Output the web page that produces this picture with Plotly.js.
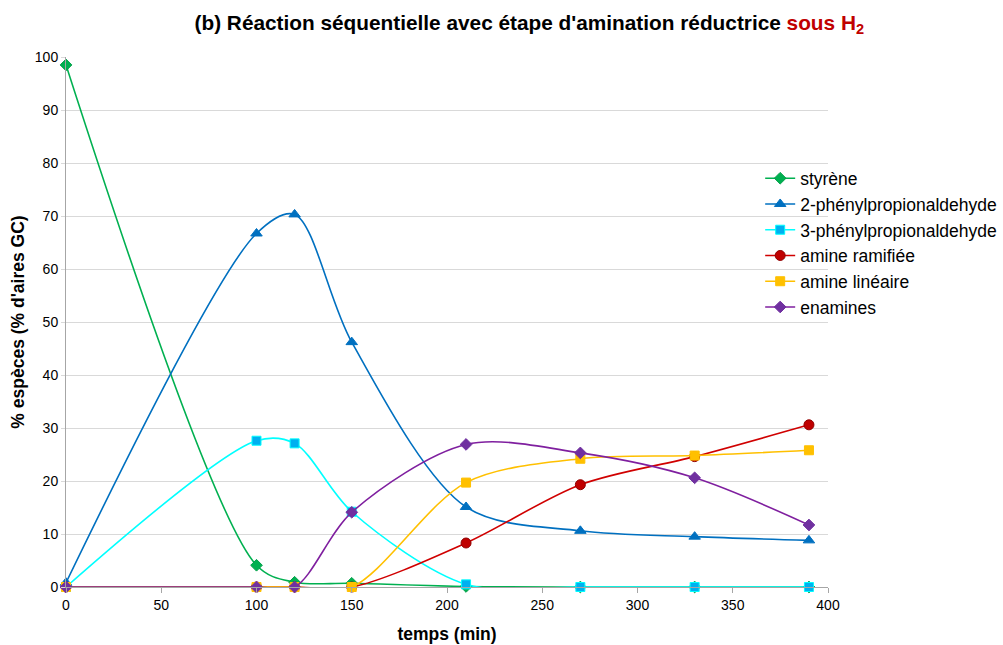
<!DOCTYPE html>
<html>
<head>
<meta charset="utf-8">
<script src="https://cdn.plot.ly/plotly-3.0.1.min.js"></script>
<style>html,body{margin:0;padding:0;background:#fff;}#chart{width:1003px;height:645px;}</style>
</head>
<body>
<div id="chart"></div>
<script>
const temps = [0, 100, 120, 150, 210, 270, 330, 390];
const styrene = [98.5, 4.1, 0.9, 0.7, 0.1, 0, 0, 0];
const phenyl2 = [0.8, 66.7, 70.3, 46.2, 15.1, 10.6, 9.5, 8.8];
const phenyl3 = [0, 27.6, 27.1, 14.2, 0.5, 0, 0, 0];
const amineRamifiee = [0, 0, 0, 0, 8.3, 19.3, 24.6, 30.6];
const amineLineaire = [0, 0, 0, 0, 19.7, 24.2, 24.8, 25.8];
const enamines = [0, 0, 0, 14.1, 26.9, 25.3, 20.6, 11.7];
const xTicks = [0, 50, 100, 150, 200, 250, 300, 350, 400];
const yTicks = [0, 10, 20, 30, 40, 50, 60, 70, 80, 90, 100];

function tr(name, y, lineColor, symbol, fill, border, size) {
  return {
    x: temps, y: y, name: name, type: 'scatter', mode: 'lines+markers',
    line: {color: lineColor, width: 1.6, shape: 'spline', smoothing: 0.9},
    marker: {symbol: symbol, color: fill, size: size, line: {color: border, width: 1}},
    cliponaxis: false
  };
}
const data = [
  tr('styrène', styrene, '#00B050', 'diamond', '#00B050', '#00A048', 9),
  tr('2-phénylpropionaldehyde', phenyl2, '#0070C0', 'triangle-up', '#0070C0', '#0070C0', 10),
  tr('3-phénylpropionaldehyde', phenyl3, '#00FFFF', 'square', '#00B0F0', '#00FFFF', 9),
  tr('amine ramifiée', amineRamifiee, '#D00000', 'circle', '#C00000', '#900000', 10),
  tr('amine linéaire', amineLineaire, '#FFC000', 'square', '#FFC000', '#FFC000', 9),
  tr('enamines', enamines, '#7F1F9F', 'diamond', '#7030A0', '#7030A0', 9)
];
const layout = {
  width: 1003, height: 645,
  margin: {l: 66, r: 175, t: 57, b: 58, autoexpand: false},
  paper_bgcolor: '#fff', plot_bgcolor: '#fff',
  font: {family: 'Liberation Sans, Arial, sans-serif', size: 14, color: '#000'},
  title: {
    text: "<b>(b) Réaction séquentielle avec étape d'amination réductrice <span style='color:#C00000'>sous H<sub>2</sub></span></b>",
    font: {size: 20.8, color: '#000'},
    x: 0.608, xref: 'paper', xanchor: 'center', y: 0.965, yref: 'container', yanchor: 'middle'
  },
  xaxis: {
    range: [0, 400], tickvals: xTicks, ticktext: xTicks.map(String),
    showgrid: false, zeroline: false, showline: true, linecolor: '#A6A6A6', linewidth: 1,
    ticks: 'outside', ticklen: 5, tickcolor: '#A6A6A6',
    title: {text: '<b>temps (min)</b>', font: {size: 17.5}, standoff: 15}
  },
  yaxis: {
    range: [0, 100], tickvals: yTicks, ticktext: yTicks.map(String),
    showgrid: true, gridcolor: '#D9D9D9', gridwidth: 1, zeroline: false,
    showline: true, linecolor: '#A6A6A6', linewidth: 1,
    ticks: 'outside', ticklen: 4, tickcolor: '#D9D9D9',
    title: {text: "<b>% espèces (% d'aires GC)</b>", font: {size: 17.5}, standoff: 5}
  },
  legend: {
    x: 0.911, xanchor: 'left', y: 0.805, yanchor: 'top',
    font: {size: 17.5}, bgcolor: 'rgba(0,0,0,0)', tracegroupgap: 0
  },
  showlegend: true
};
Plotly.newPlot('chart', data, layout, {displayModeBar: false, staticPlot: true});
</script>
</body>
</html>
